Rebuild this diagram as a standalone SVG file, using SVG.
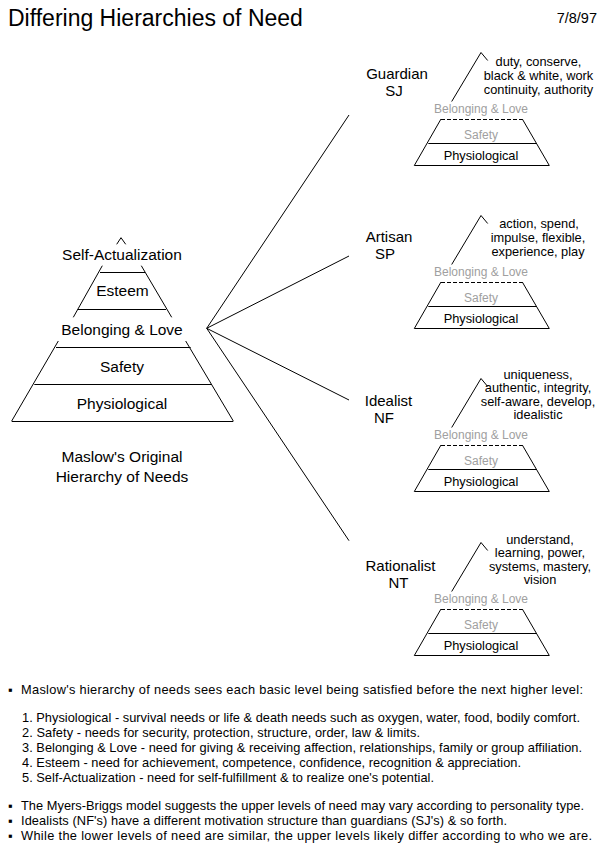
<svg xmlns="http://www.w3.org/2000/svg" width="605" height="848" viewBox="0 0 605 848">
<style>
text{font-family:"Liberation Sans",Arial,sans-serif;fill:#000}
.ln{stroke:#000;stroke-width:1;fill:none}
.dash{stroke:#000;stroke-width:1;fill:none;stroke-dasharray:4 2}
.m{font-size:15.5px;text-anchor:middle}
.lab{font-size:15px;text-anchor:middle}
.desc{font-size:12.8px;text-anchor:middle}
.gr{font-size:12px;text-anchor:middle;fill:#a0a0a0}
.ph{font-size:12.8px;text-anchor:middle}
.note{font-size:12.8px}
</style>
<defs>
<g id="pyr">
<path class="ln" d="M451.7,-64 L481,-113 L487.7,-105"/>
<path class="ln" d="M441,-46.5 L414.3,0 M522.3,-46.5 L549.3,0"/>
<path class="dash" d="M441,-46 H522.3"/>
<path class="ln" d="M428.3,-22 H536.7 M414.3,0 H549.3"/>
<text class="gr" x="481" y="-53">Belonging &amp; Love</text>
<text class="gr" x="481" y="-27">Safety</text>
<text class="ph" x="481" y="-5.5">Physiological</text>
</g>
</defs>
<g id="title">
<text x="8" y="26" style="font-size:23px">Differing Hierarchies of Need</text>
<text x="597" y="23" style="font-size:14.5px;text-anchor:end">7/8/97</text>
</g>
<g id="maslow">
<path class="ln" d="M116.7,244.3 L121,237.7 L125.7,244.3"/>
<path class="ln" d="M102.3,265.7 L73.3,317.3 M141.3,265.7 L171.7,317.3"/>
<path class="ln" d="M100,272.5 H145 M77.7,309.5 H166"/>
<path class="ln" d="M58.3,341 L11.7,421 M185.7,341 L233.3,421"/>
<path class="ln" d="M56,347.5 H190.7 M34.3,384.5 H211.7 M11.7,421.5 H233.3"/>
<text class="m" x="122" y="260">Self-Actualization</text>
<text class="m" x="122.5" y="296">Esteem</text>
<text class="m" x="122" y="334.5">Belonging &amp; Love</text>
<text class="m" x="122" y="372">Safety</text>
<text class="m" x="122" y="408.5">Physiological</text>
<text class="m" x="122" y="462">Maslow's Original</text>
<text class="m" x="122" y="482">Hierarchy of Needs</text>
</g>
<g id="connectors">
<path class="ln" d="M206.7,328.3 L349,115 M206.7,328.3 L349,256 M206.7,328.3 L349,400 M206.7,328.3 L349,540.7"/>
</g>
<g id="guardian">
<use href="#pyr" transform="translate(0,165.5)"/>
<text class="lab" x="397" y="79">Guardian</text>
<text class="lab" x="394" y="95.5">SJ</text>
<text class="desc" x="538.5" y="66">duty, conserve,</text>
<text class="desc" x="538.5" y="80">black &amp; white, work</text>
<text class="desc" x="538.5" y="94">continuity, authority</text>
</g>
<g id="artisan">
<use href="#pyr" transform="translate(0,328.5)"/>
<text class="lab" x="389" y="242">Artisan</text>
<text class="lab" x="385" y="258.5">SP</text>
<text class="desc" x="539" y="228">action, spend,</text>
<text class="desc" x="538" y="242">impulse, flexible,</text>
<text class="desc" x="538" y="256">experience, play</text>
</g>
<g id="idealist">
<use href="#pyr" transform="translate(0,491.5)"/>
<text class="lab" x="388.5" y="406">Idealist</text>
<text class="lab" x="384" y="422.5">NF</text>
<text class="desc" x="538" y="378.5">uniqueness,</text>
<text class="desc" x="538" y="392">authentic, integrity,</text>
<text class="desc" x="538" y="405.5">self-aware, develop,</text>
<text class="desc" x="538" y="419">idealistic</text>
</g>
<g id="rationalist">
<use href="#pyr" transform="translate(0,655.5)"/>
<text class="lab" x="400.5" y="571">Rationalist</text>
<text class="lab" x="398.5" y="587.5">NT</text>
<text class="desc" x="540" y="543.5">understand,</text>
<text class="desc" x="540" y="557">learning, power,</text>
<text class="desc" x="540" y="570.5">systems, mastery,</text>
<text class="desc" x="540" y="584">vision</text>
</g>
<g id="notes">
<text class="note" x="8" y="694">▪</text>
<text class="note" x="21" y="694" textLength="562" lengthAdjust="spacing">Maslow's hierarchy of needs sees each basic level being satisfied before the next higher level:</text>
<text class="note" x="22" y="722" textLength="558" lengthAdjust="spacing">1. Physiological - survival needs or life &amp; death needs such as oxygen, water, food, bodily comfort.</text>
<text class="note" x="22" y="737" textLength="398" lengthAdjust="spacing">2. Safety - needs for security, protection, structure, order, law &amp; limits.</text>
<text class="note" x="22" y="752" textLength="560" lengthAdjust="spacing">3. Belonging &amp; Love - need for giving &amp; receiving affection, relationships, family or group affiliation.</text>
<text class="note" x="22" y="767" textLength="499" lengthAdjust="spacing">4. Esteem - need for achievement, competence, confidence, recognition &amp; appreciation.</text>
<text class="note" x="22" y="782" textLength="412" lengthAdjust="spacing">5. Self-Actualization - need for self-fulfillment &amp; to realize one's potential.</text>
<text class="note" x="8" y="810">▪</text>
<text class="note" x="21" y="810" textLength="563" lengthAdjust="spacing">The Myers-Briggs model suggests the upper levels of need may vary according to personality type.</text>
<text class="note" x="8" y="825">▪</text>
<text class="note" x="21" y="825" textLength="486" lengthAdjust="spacing">Idealists (NF's) have a different motivation structure than guardians (SJ's) &amp; so forth.</text>
<text class="note" x="8" y="840">▪</text>
<text class="note" x="21" y="840" textLength="571" lengthAdjust="spacing">While the lower levels of need are similar, the upper levels likely differ according to who we are.</text>
</g>
</svg>
